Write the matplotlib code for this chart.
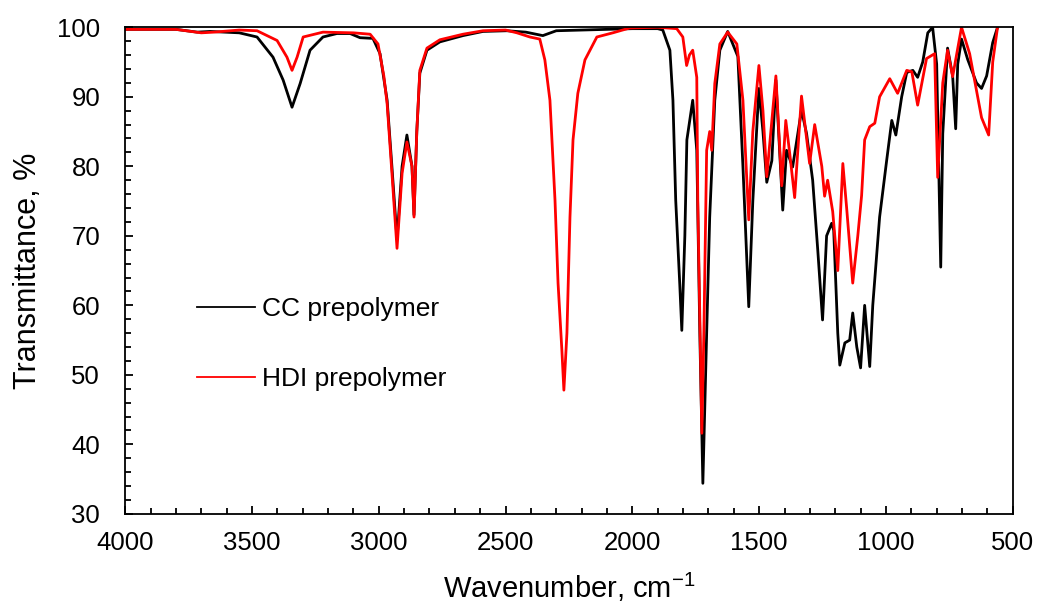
import numpy as np
import matplotlib.pyplot as plt
from matplotlib.ticker import MultipleLocator

plt.rcParams['font.family'] = ['Liberation Sans', 'DejaVu Sans']
plt.rcParams['mathtext.fontset'] = 'custom'
plt.rcParams['mathtext.rm'] = 'Liberation Sans'
plt.rcParams['mathtext.it'] = 'Liberation Sans'

# CC prepolymer (black)
cc_wn = [4000, 3800, 3716, 3665, 3550, 3480, 3417, 3377, 3342, 3310, 3271, 3220,
         3165, 3113, 3074, 3023, 2995, 2967, 2948, 2928, 2908, 2889, 2869, 2861,
         2850, 2838, 2810, 2759, 2668, 2589, 2495, 2420, 2353, 2300, 2200, 2100,
         2000, 1900, 1880, 1852, 1840, 1829, 1813, 1805, 1793, 1785, 1762, 1746,
         1734, 1722, 1707, 1695, 1675, 1655, 1624, 1584, 1564, 1541, 1525, 1501,
         1485, 1470, 1450, 1434, 1407, 1392, 1368, 1333, 1313, 1289, 1269, 1250,
         1234, 1214, 1206, 1190, 1182, 1162, 1143, 1131, 1115, 1100, 1084, 1064,
         1052, 1025, 997, 977, 961, 938, 918, 894, 875, 855, 835, 816, 800, 784,
         776, 757, 737, 725, 717, 702, 678, 643, 623, 603, 579, 560]
cc_t = [99.7, 99.7, 99.3, 99.4, 99.2, 98.6, 95.7, 92.4, 88.5, 91.9, 96.7, 98.6,
        99.1, 99.1, 98.5, 98.4, 96.2, 89.5, 79.9, 69.5, 80.0, 84.5, 80.0, 73.0,
        85.0, 93.4, 96.7, 97.9, 98.8, 99.4, 99.5, 99.3, 98.8, 99.5, 99.6, 99.7,
        99.8, 99.8, 99.6, 96.7, 89.5, 75.1, 63.0, 56.4, 70.0, 83.8, 89.5, 82.3,
        56.0, 34.4, 56.0, 72.7, 89.5, 96.7, 99.4, 95.8, 80.0, 59.8, 75.0, 91.2,
        85.0, 77.7, 80.8, 92.4, 73.7, 82.3, 79.9, 88.1, 84.7, 78.0, 68.0, 57.9,
        70.0, 71.8, 70.8, 56.0, 51.4, 54.6, 55.0, 58.9, 54.0, 51.0, 60.0, 51.2,
        60.0, 72.7, 80.9, 86.6, 84.5, 90.0, 93.5, 93.8, 92.8, 95.0, 99.2, 100.0,
        94.7, 65.5, 84.7, 97.0, 93.0, 85.4, 94.7, 98.3, 95.4, 92.0, 91.2, 93.0,
        97.8, 100.0]

# HDI prepolymer (red)
hdi_wn = [4000, 3800, 3700, 3650, 3550, 3480, 3401, 3362, 3342, 3322, 3298, 3220,
          3100, 3034, 3003, 2980, 2967, 2948, 2928, 2908, 2889, 2869, 2861, 2850,
          2838, 2810, 2759, 2668, 2589, 2500, 2455, 2404, 2365, 2345, 2325, 2305,
          2293, 2278, 2270, 2258, 2246, 2234, 2215, 2187, 2140, 2077, 2010, 1900,
          1825, 1801, 1786, 1775, 1762, 1746, 1742, 1726, 1718, 1707, 1695, 1687,
          1675, 1655, 1624, 1588, 1564, 1541, 1525, 1501, 1485, 1470, 1434, 1411,
          1395, 1379, 1360, 1333, 1301, 1281, 1253, 1242, 1230, 1210, 1190, 1170,
          1155, 1131, 1111, 1096, 1084, 1064, 1044, 1025, 985, 954, 918, 898, 875,
          840, 808, 796, 776, 757, 737, 702, 670, 623, 595, 579, 560]
hdi_t = [99.7, 99.7, 99.2, 99.3, 99.6, 99.5, 98.1, 95.7, 93.8, 95.7, 98.6, 99.3,
         99.2, 99.0, 97.6, 93.0, 89.0, 79.0, 68.2, 79.0, 83.5, 80.0, 72.7, 85.0,
         93.8, 97.0, 98.2, 99.0, 99.5, 99.6, 99.2, 98.6, 98.3, 95.3, 89.5, 75.1,
         63.2, 53.6, 47.8, 56.0, 72.7, 83.8, 90.5, 95.3, 98.6, 99.2, 99.9, 100.0,
         99.8, 98.6, 94.5, 96.0, 96.7, 92.8, 75.1, 41.6, 56.0, 82.3, 85.0, 82.3,
         91.9, 97.6, 99.3, 97.6, 89.5, 72.3, 85.0, 94.5, 88.0, 78.5, 93.0, 77.2,
         86.6, 81.7, 75.5, 90.1, 80.4, 86.0, 80.0, 75.7, 78.0, 73.5, 65.0, 80.4,
         74.0, 63.2, 70.0, 75.8, 83.8, 85.7, 86.2, 90.0, 92.6, 90.5, 93.8, 93.6,
         88.8, 95.5, 96.2, 78.4, 92.0, 96.7, 92.9, 100.0, 96.2, 87.0, 84.5, 95.0,
         100.0]

fig = plt.figure(figsize=(10.43, 6.06), dpi=100)
ax = fig.add_axes([0.12, 0.152, 0.851, 0.803])

ax.plot(cc_wn, cc_t, color='black', lw=2.0, label='CC prepolymer')
ax.plot(hdi_wn, hdi_t, color='#ff0000', lw=2.0, label='HDI prepolymer')

ax.set_xlim(4000, 500)
ax.set_ylim(30, 100)
ax.xaxis.set_major_locator(MultipleLocator(500))
ax.xaxis.set_minor_locator(MultipleLocator(100))
ax.yaxis.set_major_locator(MultipleLocator(10))
ax.yaxis.set_minor_locator(MultipleLocator(2))
ax.tick_params(which='both', direction='in', width=1.3, labelsize=18.5)
ax.tick_params(which='major', length=6)
ax.tick_params(which='minor', length=4)
ax.tick_params(axis='y', pad=18)
ax.tick_params(axis='x', pad=12)
for s in ax.spines.values():
    s.set_linewidth(1.3)

ax.set_xlabel('Wavenumber, cm$^{-1}$', fontsize=21, labelpad=12)
ax.set_ylabel('Transmittance, %', fontsize=22, labelpad=10)

leg = ax.legend(loc='center left', bbox_to_anchor=(0.081, 0.349), frameon=False,
                fontsize=19, handlelength=2.2, handletextpad=0.27,
                labelspacing=1.75, borderaxespad=0, borderpad=0)
for l in leg.get_lines():
    l.set_linewidth(1.3)

fig.savefig('out.png', dpi=100)
